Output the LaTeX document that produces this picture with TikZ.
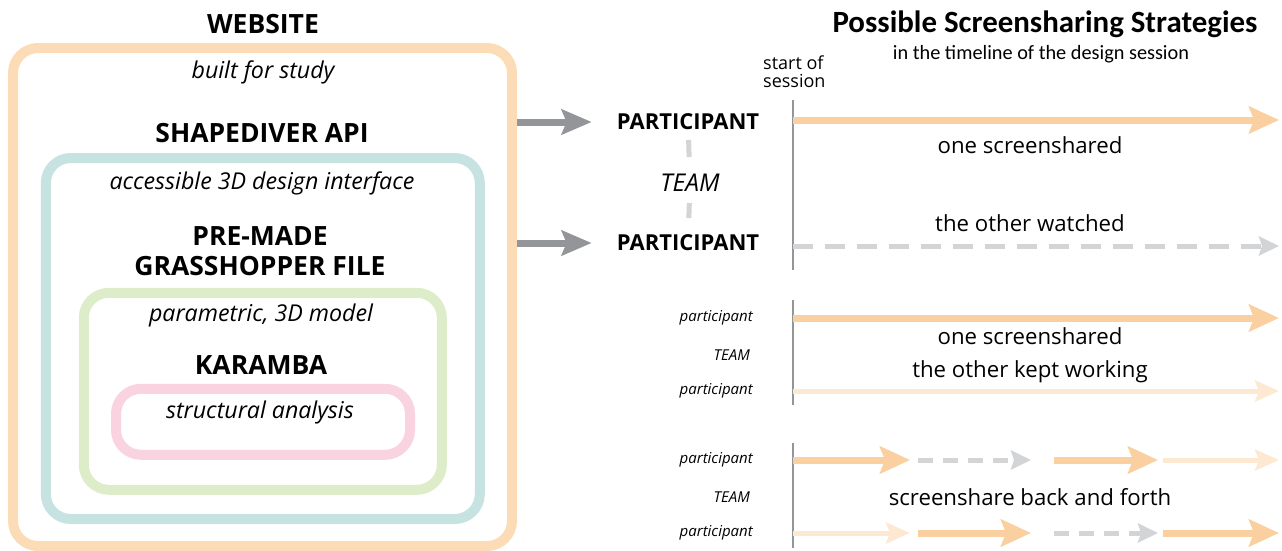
\documentclass[tikz,border=0pt]{standalone}
\usepackage{fontspec}
\setmainfont{Open Sans}
\newfontfamily\titlefont{Carlito}
\usetikzlibrary{arrows.meta,positioning}

\definecolor{webclr}{HTML}{FCDCB6}
\definecolor{apiclr}{HTML}{C6E3E1}
\definecolor{ghclr}{HTML}{DEEDC9}
\definecolor{karclr}{HTML}{F9D3E0}
\definecolor{shareclr}{HTML}{FBD0A0}
\definecolor{workclr}{HTML}{FDE9D2}
\definecolor{lineclr}{HTML}{939598}
\definecolor{watchclr}{HTML}{D3D4D6}

\tikzset{
  layer/.style={draw=#1,line width=10pt,rounded corners=25pt,inner sep=0pt},
  head/.style={font=\bfseries\fontsize{26.5}{30}\selectfont,inner sep=0pt},
  member/.style={font=\bfseries\fontsize{22}{26}\selectfont,inner sep=0pt},
  note/.style={font=\itshape\fontsize{23.2}{27}\selectfont,inner sep=0pt},
  tag/.style={font=\itshape\fontsize{15}{18}\selectfont,inner sep=0pt,anchor=east},
  strat/.style={font=\fontsize{22.2}{33}\selectfont,inner sep=0pt,align=center},
  share/.style={draw=shareclr,line width=7pt,-{Stealth[length=30pt,width=27pt,inset=5pt]}},
  work/.style={draw=workclr,line width=5pt,-{Stealth[length=24pt,width=21pt,inset=4pt]}},
  watch/.style={draw=watchclr,line width=5pt,dash pattern=on 20pt off 12pt,-{Stealth[length=20pt,width=19pt,inset=3pt]}},
  watchshort/.style={watch,dash pattern=on 15pt off 10pt},
  startline/.style={draw=lineclr,line width=2.5pt},
}

\begin{document}
\begin{tikzpicture}[x=1pt,y=-1pt]
\useasboundingbox (0,0) rectangle (1282,550);

% nested layers of the website
\node[layer=webclr,minimum width=499pt,minimum height=498pt] (web) at (262.5,297) {};
\node[layer=apiclr,minimum width=434pt,minimum height=361pt] (api) at (262.8,338.5) {};
\node[layer=ghclr,minimum width=358pt,minimum height=197pt] (gh) at (262.8,391.3) {};
\node[layer=karclr,minimum width=294pt,minimum height=66pt] (kar) at (263,421.8) {};

\node[head] (website) at (263,24) {WEBSITE};
\node[note] (built) at (263,72) {built for study};
\node[head] (shapediver) at (262,133) {SHAPEDIVER API};
\node[note] (access) at (262,183) {accessible 3D design interface};
\node[head,align=center] (ghfile) at (260,251) {PRE-MADE\\GRASSHOPPER FILE};
\node[note] (param) at (261,315) {parametric, 3D model};
\node[head] (karamba) at (261,365) {KARAMBA};
\node[note] (struct) at (260,412) {structural analysis};

% the team
\node[member] (pa1) at (688,122) {PARTICIPANT};
\node[note,font=\itshape\fontsize{24.5}{28}\selectfont] (team) at (690,183) {TEAM};
\node[member] (pa2) at (688,243) {PARTICIPANT};
\draw[watchclr,line width=5pt,shorten <=18pt,shorten >=26pt] (pa1.center) -- (team.center);
\draw[watchclr,line width=5pt,shorten <=20pt,shorten >=25pt] (team.center) -- (pa2.center);
\draw[lineclr,line width=7pt,shorten >=25pt,-{Stealth[length=30pt,width=25pt,inset=5pt]}] (web.east |- pa1) -- (pa1.west);
\draw[lineclr,line width=7pt,shorten >=25pt,-{Stealth[length=30pt,width=25pt,inset=5pt]}] (web.east |- pa2) -- (pa2.west);

% strategies
\node[font=\titlefont\bfseries\fontsize{30.9}{34}\selectfont,inner sep=0pt] (title) at (1045,24) {Possible Screensharing Strategies};
\node[font=\titlefont\fontsize{20.3}{24}\selectfont,inner sep=0pt] (subtitle) at (1041,54) {in the timeline of the design session};
\node[font=\fontsize{18}{18}\selectfont,inner sep=0pt,align=left,anchor=north west] (start) at (763,56) {start of\\session};

% one screenshared, the other watched
\coordinate (top1) at (793,100);
\coordinate (bot1) at (793,270);
\coordinate (a1) at (793,120);
\coordinate (b1) at (1279,120);
\coordinate (a2) at (793,246);
\coordinate (b2) at (1279,246);
\draw[startline] (top1) -- (bot1);
\draw[share] (a1) -- (b1);
\draw[watch] (a2) -- (b2);
\node[strat] (watched1) at (1030,145) {one screenshared};
\node[strat] (watched2) at (1030,223) {the other watched};

% one screenshared, the other kept working
\node[tag] (pb1) at (753,318) {participant};
\node[tag] (teamb) at (750,355) {TEAM};
\node[tag] (pb2) at (753,391) {participant};
\coordinate (top2) at (793,300);
\coordinate (bot2) at (793,405);
\draw[startline] (top2) -- (bot2);
\draw[share] (top2 |- pb1) -- (1279,318);
\draw[work] (top2 |- pb2) -- (1279,391);
\node[strat] (working) at (1030,355) {one screenshared\\the other kept working};

% back and forth
\node[tag] (pc1) at (753,460) {participant};
\node[tag] (teamc) at (750,497) {TEAM};
\node[tag] (pc2) at (753,533) {participant};
\coordinate (top3) at (793,443);
\coordinate (bot3) at (793,548);
\draw[startline] (top3) -- (bot3);
\foreach \y/\from/\to/\kind in {460/793/910/share,460/918/1031/watchshort,460/1054/1158/share,460/1163/1279/work,
    533/793/910/work,533/918/1031/share,533/1054/1158/watchshort,533/1163/1279/share}{
  \draw[\kind] (\from,\y) -- (\to,\y);}
\node[strat] (backforth) at (1030,497) {screenshare back and forth};
\end{tikzpicture}
\end{document}
